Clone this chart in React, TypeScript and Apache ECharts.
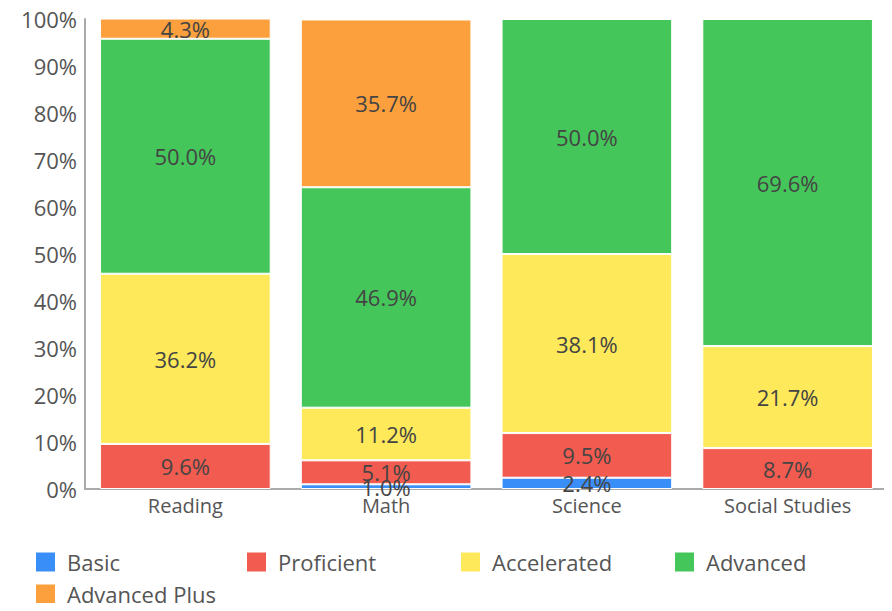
import React, { useEffect, useRef } from "react";
import * as echarts from "echarts";

const categories = ["Reading", "Math", "Science", "Social Studies"];
const seriesNames = ["Basic", "Proficient", "Accelerated", "Advanced", "Advanced Plus"];
const basic = [0, 1.0, 2.4, 0];
const proficient = [9.6, 5.1, 9.5, 8.7];
const accelerated = [36.2, 11.2, 38.1, 21.7];
const advanced = [50.0, 46.9, 50.0, 69.6];
const advancedPlus = [4.3, 35.7, 0, 0];
const colors = ["#3a8ef7", "#f25b4f", "#fde95a", "#45c65a", "#fba03c"];

const FONT = "'Open Sans', sans-serif";

export default function App() {
  const ref = useRef<HTMLDivElement>(null);
  useEffect(() => {
    if (!ref.current) return;
    const chart = echarts.init(ref.current, null, { renderer: "svg" });
    const values = [basic, proficient, accelerated, advanced, advancedPlus];
    const legendPos = [
      { left: 36, top: 551 },
      { left: 247, top: 551 },
      { left: 461, top: 551 },
      { left: 675, top: 551 },
      { left: 36, top: 583 },
    ];
    chart.setOption({
      animation: false,
      textStyle: { fontFamily: FONT },
      grid: { left: 85, right: 4, top: 19, bottom: 122 },
      legend: seriesNames.map((name, i) => ({
        left: legendPos[i].left,
        top: legendPos[i].top,
        padding: 0,
        itemWidth: 19,
        itemHeight: 19,
        icon: "rect",
        itemStyle: { borderWidth: 0 },
        data: [name],
        textStyle: {
          fontSize: 22,
          color: "#555",
          fontFamily: FONT,
          padding: [0, 0, 8, 7],
        },
      })),
      xAxis: {
        type: "category",
        data: categories,
        axisLine: { lineStyle: { color: "#aaa", width: 2 } },
        axisTick: { show: false },
        axisLabel: { fontSize: 20, color: "#555", margin: 6, fontFamily: FONT },
      },
      yAxis: {
        type: "value",
        min: 0,
        max: 100,
        interval: 10,
        axisLine: { show: true, lineStyle: { color: "#aaa", width: 2 } },
        axisTick: { show: false },
        splitLine: { show: false },
        axisLabel: { fontSize: 22, color: "#555", margin: 8, formatter: "{value}%", fontFamily: FONT },
      },
      series: seriesNames.map((name, i) => ({
        name,
        type: "bar",
        stack: "total",
        barCategoryGap: "15%",
        data: values[i].map((v) => (v === 0 ? null : v)),
        itemStyle: { color: colors[i], borderColor: "#fff", borderWidth: 1 },
        label: {
          show: true,
          position: "inside",
          formatter: (p: any) => p.value.toFixed(1) + "%",
          fontSize: 22,
          color: "#444",
          fontFamily: FONT,
        },
      })),
    });
    return () => chart.dispose();
  }, []);
  return <div ref={ref} style={{ width: 892, height: 611, margin: -8 }} />;
}
